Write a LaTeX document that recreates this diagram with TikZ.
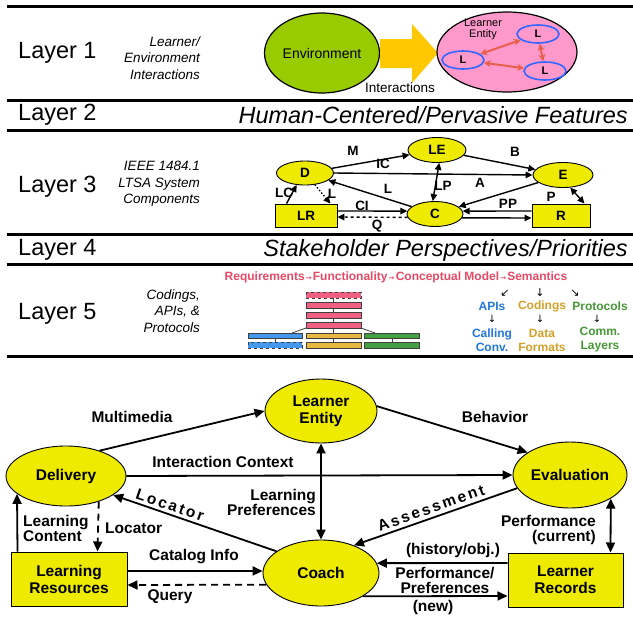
\documentclass[tikz,border=0pt]{standalone}
\usepackage{fontspec}
\setmainfont{Liberation Sans}
\newfontfamily\symf{DejaVu Sans}
\usetikzlibrary{arrows.meta,shapes.geometric,calc}
\definecolor{nodeyel}{RGB}{238,234,0}
\definecolor{envgreen}{RGB}{153,204,0}
\definecolor{arrgold}{RGB}{255,200,0}
\definecolor{pinkfill}{RGB}{255,153,204}
\definecolor{lblue}{RGB}{51,102,255}
\definecolor{lred}{RGB}{232,96,76}
\definecolor{rtxt}{RGB}{232,72,100}
\definecolor{btxt}{RGB}{34,119,221}
\definecolor{gtxt}{RGB}{212,160,40}
\definecolor{ggtxt}{RGB}{68,153,51}
\definecolor{rbox}{RGB}{240,96,128}
\definecolor{bbox}{RGB}{68,153,238}
\definecolor{gbox}{RGB}{232,184,64}
\definecolor{grbox}{RGB}{68,160,68}
\newcommand{\chainarr}{{\symf\fontsize{7}{7}\selectfont\,→\,}}
\begin{document}
\begin{tikzpicture}[x=1pt,y=-1pt,
  sepline/.style={line width=3pt},
  laylbl/.style={anchor=west,inner sep=0,font=\fontsize{23.5}{26}\selectfont},
  laytitle/.style={anchor=east,inner sep=0,font=\itshape\fontsize{23.5}{26}\selectfont},
  desc/.style={anchor=east,inner sep=0,align=right,font=\itshape\fontsize{13.5}{16.5}\selectfont},
  smell/.style={draw,fill=nodeyel,line width=0.9pt,ellipse,inner sep=0,font=\bfseries\fontsize{13.5}{15}\selectfont},
  smbox/.style={draw,fill=nodeyel,line width=0.9pt,rectangle,inner sep=0,font=\bfseries\fontsize{13.5}{15}\selectfont},
  smarr/.style={-{Triangle[length=7pt,width=6.5pt]},line width=1.4pt},
  smlbl/.style={inner sep=0,font=\bfseries\fontsize{13.5}{15}\selectfont},
  bigell/.style={draw,fill=nodeyel,line width=0.9pt,ellipse,inner sep=0,align=center,font=\bfseries\fontsize{15.5}{17}\selectfont},
  bigbox/.style={draw,fill=nodeyel,line width=1pt,rectangle,inner sep=0,align=center,font=\bfseries\fontsize{15.5}{17}\selectfont},
  bigarr/.style={-{Triangle[length=10pt,width=9pt]},line width=1.8pt},
  biglbl/.style={inner sep=0,align=center,font=\bfseries\fontsize{15.5}{15}\selectfont},
  spaced/.style={inner sep=0,font=\bfseries\fontsize{15.5}{15}\selectfont\addfontfeature{LetterSpace=15}},
  lnode/.style={draw=lblue,fill=pinkfill,line width=1.6pt,ellipse,inner sep=0,minimum width=42pt,minimum height=18pt,font=\bfseries\fontsize{11}{12}\selectfont},
  redarr/.style={{Stealth[length=7pt,width=7pt]}-{Stealth[length=7pt,width=7pt]},draw=lred,line width=2pt},
  stk/.style={draw=black!75,line width=0.8pt},
  l5/.style={inner sep=0,align=center,font=\bfseries\fontsize{12}{14}\selectfont}
]
\useasboundingbox (0,0) rectangle (633,630);
% separator lines
\coordinate (s0a) at (7,6);   \coordinate (s0b) at (633,6);
\coordinate (s1a) at (7,100); \coordinate (s1b) at (633,100);
\coordinate (s2a) at (7,130); \coordinate (s2b) at (633,130);
\coordinate (s3a) at (7,234); \coordinate (s3b) at (633,234);
\coordinate (s4a) at (7,264); \coordinate (s4b) at (633,264);
\coordinate (s5a) at (7,356); \coordinate (s5b) at (633,356);
\foreach \i in {0,...,5} {\draw[sepline] (s\i a) -- (s\i b);}

% ---------- Layer 1 ----------
\node[laylbl] (lay1) at (18,53) {Layer 1};
\node[desc] (d1) at (200,58) {Learner/\\Environment\\Interactions};
\node[draw,fill=envgreen,line width=1.2pt,ellipse,inner sep=0,minimum width=115pt,minimum height=80pt,font=\fontsize{14}{16}\selectfont] (env) at (322,53) {Environment};
\fill[arrgold] (380,39) -- (412,39) -- (412,24) -- (438,53) -- (412,83) -- (412,68) -- (380,68) -- cycle;
\node[inner sep=0,font=\fontsize{13.5}{16}\selectfont] (inter) at (400,88) {Interactions};
\node[draw,fill=pinkfill,line width=1.2pt,ellipse,inner sep=0,minimum width=140pt,minimum height=80pt] (lent) at (507,52) {};
\node[inner sep=0,align=center,font=\fontsize{11}{11}\selectfont] (lenttxt) at (483,29) {Learner\\Entity};
\node[lnode] (L1) at (538,34) {L};
\node[lnode] (L2) at (463,60) {L};
\node[lnode] (L3) at (545,71) {L};
\draw[redarr] (L2) -- (L1);
\draw[redarr] (L1) -- (L3);
\draw[redarr] (L2) -- (L3);

% ---------- Layer 2 ----------
\node[laylbl] (lay2) at (18,115) {Layer 2};
\node[laytitle] (t2) at (628,115) {Human-Centered/Pervasive Features};

% ---------- Layer 3 ----------
\node[laylbl] (lay3) at (18,187) {Layer 3};
\node[desc] (d3) at (200,184) {IEEE 1484.1\\LTSA System\\Components};
\node[smell,minimum width=57pt,minimum height=24pt] (D) at (305,173) {D};
\node[smell,minimum width=58pt,minimum height=25pt] (LE) at (437,150) {LE};
\node[smell,minimum width=60pt,minimum height=25pt] (E) at (563,175) {E};
\node[smbox,minimum width=62pt,minimum height=23pt] (LR) at (306,215.5) {LR};
\node[smell,minimum width=56pt,minimum height=25pt] (C) at (435,214) {C};
\node[smbox,minimum width=58pt,minimum height=23pt] (R) at (561,215.5) {R};
\draw[smarr] (D) -- (LE);
\draw[smarr] (D.east) -- (E.west);
\draw[smarr] (LE) -- (E);
\draw[smarr] (C) -- (D);
\draw[smarr,{Triangle[length=7pt,width=6.5pt]}-{Triangle[length=7pt,width=6.5pt]}] (LE.-80) -- (C.100);
\draw[smarr] (E) -- (C);
\draw[smarr] ([xshift=12pt]LR.north west) -- (D.235);
\draw[smarr,dotted] (D.-50) -- ([xshift=-7pt]LR.north east);
\draw[smarr] ([yshift=4.5pt]LR.east) -- (C.174);
\draw[smarr,dashed] (C.187) -- ([yshift=-1.5pt]LR.east);
\draw[smarr] ([yshift=4.5pt]R.west) -- (C.6);
\draw[smarr] (C.-8) -- ([yshift=-2.5pt]R.west);
\draw[smarr,{Triangle[length=7pt,width=6.5pt]}-{Triangle[length=7pt,width=6.5pt]}] (E.-60) -- ([xshift=-6pt]R.north east);
\node[smlbl] (lM) at (353,151) {M};
\node[smlbl] (lIC) at (383,164) {IC};
\node[smlbl] (lB) at (515,152) {B};
\node[smlbl] (lL) at (388,189) {L};
\node[smlbl] (lLP) at (443,186) {LP};
\node[smlbl] (lA) at (480,183) {A};
\node[smlbl] (lLC) at (284,193) {LC};
\node[smlbl] (lL2) at (332,194) {L};
\node[smlbl] (lCI) at (362,206) {CI};
\node[smlbl] (lQ) at (377,226) {Q};
\node[smlbl] (lPP) at (508,204) {PP};
\node[smlbl] (lP) at (551,197) {P};

% ---------- Layer 4 ----------
\node[laylbl] (lay4) at (18,250) {Layer 4};
\node[laytitle] (t4) at (628,250) {Stakeholder Perspectives/Priorities};

% ---------- Layer 5 ----------
\node[laylbl] (lay5) at (18,314) {Layer 5};
\node[desc] (d5) at (200,311) {Codings,\\APIs, \&\\Protocols};
\node[l5,text=rtxt] (chain) at (396,277) {Requirements\chainarr Functionality\chainarr Conceptual Model\chainarr Semantics};
\node[l5,font=\symf\fontsize{11}{11}\selectfont] (a1) at (505,293) {↙};
\node[l5,font=\symf\fontsize{11}{11}\selectfont] (a2) at (540,293) {↓};
\node[l5,font=\symf\fontsize{11}{11}\selectfont] (a3) at (575,293) {↘};
\node[l5,text=btxt] (apis) at (492,306) {APIs};
\node[l5,text=gtxt] (cods) at (542,306) {Codings};
\node[l5,text=ggtxt] (prots) at (600,306) {Protocols};
\node[l5,font=\symf\fontsize{10}{10}\selectfont] (b1) at (492,319) {↓};
\node[l5,font=\symf\fontsize{10}{10}\selectfont] (b2) at (540,319) {↓};
\node[l5,font=\symf\fontsize{10}{10}\selectfont] (b3) at (597,319) {↓};
\node[l5,text=btxt] (call) at (492,340) {Calling\\Conv.};
\node[l5,text=gtxt] (data) at (542,340) {Data\\Formats};
\node[l5,text=ggtxt] (comm) at (600,340) {Comm.\\Layers};
% stack
\draw[stk] (333,292) -- (333,347);
\draw[stk] (306,328) -- (292,333);
\draw[stk] (361,328) -- (375,333);
\draw[stk] (275,336) -- (275,344);
\draw[stk] (392,336) -- (392,344);
\draw[stk,fill=rbox,dashed] (306,292) rectangle (361,298);
\draw[stk,fill=rbox] (306,302) rectangle (361,308);
\draw[stk,fill=rbox] (306,312) rectangle (361,318);
\draw[stk,fill=rbox] (306,322) rectangle (361,328);
\draw[stk,fill=bbox] (248,333) rectangle (302,338);
\draw[stk,fill=bbox,dashed] (248,342) rectangle (302,348);
\draw[stk,fill=gbox] (306,333) rectangle (361,338);
\draw[stk,fill=gbox] (306,342) rectangle (361,348);
\draw[stk,fill=grbox] (364,333) rectangle (419,338);
\draw[stk,fill=grbox] (364,342) rectangle (419,348);
\draw[stk] (333,328) -- (333,333);
\draw[stk] (333,338) -- (333,342);

% ---------- Bottom diagram ----------
\node[bigell,minimum width=120pt,minimum height=60pt] (deliv) at (66,476) {Delivery};
\node[bigell,minimum width=112pt,minimum height=64pt] (lentity) at (321,411) {Learner\\Entity};
\node[bigell,minimum width=114pt,minimum height=66pt] (evalu) at (570,475) {Evaluation};
\node[bigell,minimum width=116pt,minimum height=66pt] (coach) at (321,573) {Coach};
\node[bigbox,minimum width=116pt,minimum height=54pt] (lres) at (69,579) {Learning\\Resources};
\node[bigbox,minimum width=115pt,minimum height=54pt] (lrec) at (565.5,580) {Learner\\Records};

\draw[bigarr] (deliv.37) -- (lentity.west);
\draw[bigarr] (lentity.5) -- (evalu.152);
\draw[bigarr] (deliv.east) -- (evalu.west);
\draw[bigarr,{Triangle[length=10pt,width=9pt]}-{Triangle[length=10pt,width=9pt]}] (lentity.south) -- (coach.north);
\draw[bigarr] (coach.154) -- (deliv.-22);
\draw[bigarr] (evalu.194) -- (coach.40);
\draw[bigarr] ([xshift=7pt]lres.north west) -- (deliv.200.6);
\draw[bigarr,dashed,dash pattern=on 7pt off 5pt] (deliv.-38.4) -- ([xshift=87pt]lres.north west);
\draw[bigarr] ([yshift=8pt]lres.east) -- (coach.178);
\draw[bigarr,dashed,dash pattern=on 7pt off 5pt] (coach.192.5) -- ([yshift=-6pt]lres.east);
\draw[bigarr] ([yshift=17pt]lrec.west) -- (coach.10.2);
\draw[bigarr] (coach.-29) -- ([yshift=-16pt]lrec.west);
\draw[bigarr,{Triangle[length=10pt,width=9pt]}-{Triangle[length=10pt,width=9pt]}] (evalu.-30.4) -- ([xshift=-13pt]lrec.north east);

\node[biglbl] (tMM) at (132,417) {Multimedia};
\node[biglbl] (tBe) at (495,417) {Behavior};
\node[biglbl] (tIC) at (223,462) {Interaction Context};
\node[biglbl,anchor=east,align=right] (tLP) at (316,502) {Learning\\Preferences};
\node[spaced,rotate=-19] (tLoc) at (170,505) {Locator};
\node[spaced,rotate=19.4] (tAs) at (431,508) {Assessment};
\node[biglbl,anchor=west,align=left] (tLC) at (23,528) {Learning\\Content};
\node[biglbl,anchor=west] (tLoc2) at (105,528) {Locator};
\node[biglbl] (tCat) at (194,557) {Catalog Info};
\node[biglbl] (tQ) at (170,597) {Query};
\node[biglbl] (tHist) at (453,550) {(history/obj.)};
\node[biglbl] (tPP) at (445,580) {Performance/\\Preferences};
\node[biglbl] (tNew) at (433,607) {(new)};
\node[biglbl,anchor=east,align=right] (tPC) at (596,530) {Performance\\(current)};
\end{tikzpicture}
\end{document}
